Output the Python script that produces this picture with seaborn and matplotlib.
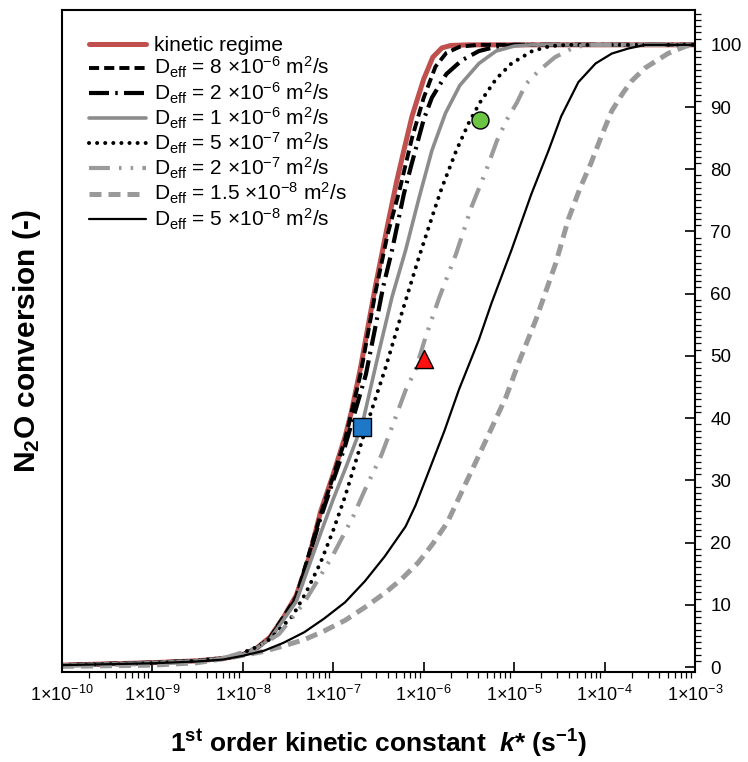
import numpy as np
import pandas as pd
import matplotlib
matplotlib.use("Agg")
import matplotlib.pyplot as plt
import seaborn as sns
from matplotlib.ticker import FixedLocator, MultipleLocator, NullFormatter

sns.set_style("white")
plt.rcParams["font.family"] = ["Liberation Sans", "DejaVu Sans"]
plt.rcParams["mathtext.fontset"] = "custom"
plt.rcParams["mathtext.rm"] = "Liberation Sans"
plt.rcParams["mathtext.it"] = "Liberation Sans:italic"
plt.rcParams["mathtext.bf"] = "Liberation Sans:bold"
plt.rcParams["mathtext.bfit"] = "Liberation Sans:bold:italic"
for key in ["text.color", "axes.labelcolor", "xtick.color", "ytick.color"]:
    plt.rcParams[key] = "black"

# ---------------- data (log10 of k* in s^-1, conversion in %) ----------------
logk_kin = [-10, -9, -8.5, -8.2, -8, -7.85, -7.7, -7.55, -7.41, -7.28, -7.14, -7.0, -6.87, -6.8,
            -6.7, -6.6, -6.53, -6.4, -6.3, -6.22, -6.13, -6.0, -5.9, -5.8, -5.7, -5.5, -3]
conv_kin = [0.3, 0.7, 1.0, 1.4, 2.0, 3.0, 4.8, 8, 11.5, 17, 25, 31, 37, 41,
            48, 56, 61.5, 71, 78, 83, 88.5, 94.5, 98, 99.5, 99.9, 100, 100]

logk_8e6 = [-10, -9, -8.5, -8.2, -8, -7.85, -7.7, -7.41, -7.14, -6.87, -6.7, -6.53, -6.4, -6.27,
            -6.13, -6.0, -5.87, -5.75, -5.6, -5.4, -3]
conv_8e6 = [0.3, 0.7, 1.0, 1.4, 2.0, 3.0, 4.7, 11.3, 24.5, 36.5, 47, 60.5, 69.5, 76.5,
            85, 91.5, 96.5, 98.7, 99.7, 100, 100]

logk_2e6 = [-10, -9, -8.5, -8.2, -8, -7.85, -7.7, -7.41, -7.14, -7.0, -6.87, -6.75, -6.64,
            -6.53, -6.45, -6.35, -6.22, -6.14, -6.0, -5.91, -5.75, -5.58, -5.39, -5.2, -5.0, -3]
conv_2e6 = [0.3, 0.7, 1.0, 1.4, 2.0, 3.0, 4.6, 11, 24, 30, 35.5, 41.5, 47,
            55, 61, 67, 76, 80.5, 88, 91.5, 95.3, 97.5, 99, 99.7, 100, 100]

logk_1e6 = [-10, -9, -8.5, -8.2, -8, -7.85, -7.7, -7.41, -7.14, -7.0, -6.85, -6.68, -6.49,
            -6.35, -6.2, -6.05, -5.91, -5.76, -5.6, -5.39, -5.2, -5.0, -4.8, -3]
conv_1e6 = [0.3, 0.7, 1.0, 1.4, 2.0, 3.0, 4.5, 10.5, 21.5, 27, 32.5, 39, 51,
            59.5, 67, 75.5, 83, 89, 93.5, 97, 99, 99.8, 100, 100]

logk_5e7 = [-10, -9, -8.5, -8.2, -8, -7.85, -7.7, -7.45, -7.3, -7.14, -7.0, -6.87, -6.69, -6.6,
            -6.42, -6.24, -6.05, -5.87, -5.8, -5.64, -5.5, -5.38, -5.2, -5.03, -4.8, -4.6,
            -4.4, -3]
conv_5e7 = [0.3, 0.6, 1.0, 1.5, 2.3, 3.2, 4.5, 8.2, 12, 16.8, 22, 27.4, 36, 40.2,
            48.2, 57, 66, 74, 77, 83, 87.5, 90.7, 94.5, 97, 99, 99.8,
            100, 100]

logk_2e7 = [-10, -9, -8.5, -8.2, -7.9, -7.75, -7.6, -7.45, -7.32, -7.12, -7.01, -6.78, -6.65,
            -6.47, -6.35, -6.2, -6.09, -5.98, -5.83, -5.64, -5.47, -5.31, -5.19, -5.08, -4.97,
            -4.87, -4.73, -4.55, -4.35, -4.2, -3]
conv_2e7 = [0.2, 0.5, 0.9, 1.5, 2.8, 3.9, 5.3, 8.0, 10.4, 15.2, 17.8, 24.2, 28.5,
            34, 38.6, 44.5, 47.8, 53, 59.3, 66.5, 74, 79.8, 84.6, 88, 90.7,
            93.7, 95.8, 98, 99.5, 100, 100]

logk_15e8 = [-10, -9, -8.5, -8.14, -7.77, -7.55, -7.32, -7.1, -6.87, -6.65, -6.42, -6.24, -6.06,
             -5.9, -5.74, -5.52, -5.31, -5.09, -4.95, -4.76, -4.54, -4.4, -4.27, -4.15, -4.03,
             -3.92, -3.8, -3.7, -3.55, -3.3, -3.1, -3]
conv_15e8 = [0.1, 0.3, 0.7, 1.5, 2.5, 3.4, 4.4, 5.8, 7.5, 9.6, 12, 14.2, 16.8,
             19.8, 23.2, 30, 36.5, 43.4, 48.9, 55.8, 64.9, 72, 77, 81, 85.5,
             89.4, 92.2, 94.2, 96.3, 98.6, 99.8, 100]

logk_5e8 = [-10, -9, -8.5, -8.22, -8.0, -7.77, -7.55, -7.32, -7.1, -6.87, -6.65, -6.43, -6.2,
            -6.09, -5.98, -5.77, -5.61, -5.39, -5.25, -5.03, -4.81, -4.62, -4.48, -4.29, -4.1,
            -3.92, -3.74, -3.55, -3]
conv_5e8 = [0.3, 0.6, 0.9, 1.2, 1.8, 2.6, 3.9, 5.6, 7.8, 10.4, 13.8, 17.8, 22.6,
            26, 30.1, 38, 44.6, 52.6, 58.5, 67, 76, 83, 88.5, 94, 97,
            98.6, 99.4, 100, 100]

labels = [
    "kinetic regime",
    r"D$_{\mathrm{eff}}$ = 8 $\times$10$^{-6}$ m$^{2}$/s",
    r"D$_{\mathrm{eff}}$ = 2 $\times$10$^{-6}$ m$^{2}$/s",
    r"D$_{\mathrm{eff}}$ = 1 $\times$10$^{-6}$ m$^{2}$/s",
    r"D$_{\mathrm{eff}}$ = 5 $\times$10$^{-7}$ m$^{2}$/s",
    r"D$_{\mathrm{eff}}$ = 2 $\times$10$^{-7}$ m$^{2}$/s",
    r"D$_{\mathrm{eff}}$ = 1.5 $\times$10$^{-8}$ m$^{2}$/s",
    r"D$_{\mathrm{eff}}$ = 5 $\times$10$^{-8}$ m$^{2}$/s",
]

# experimental points
pt_k = [2.1e-7, 1.0e-6, 4.2e-6]
pt_conv = [38.6, 49.5, 88.0]

xtick_exp = [-10, -9, -8, -7, -6, -5, -4, -3]
ytick_vals = [0, 10, 20, 30, 40, 50, 60, 70, 80, 90, 100]

# ---------------- styles ----------------
series = [
    (logk_kin, conv_kin, dict(color="#c0504d", lw=3.6, linestyle="-")),
    (logk_8e6, conv_8e6, dict(color="black", lw=2.8, linestyle=(0, (2.6, 1.3)))),
    (logk_2e6, conv_2e6, dict(color="black", lw=3.0, linestyle=(0, (4.8, 1.5, 0.6, 1.5)))),
    (logk_1e6, conv_1e6, dict(color="#8c8c8c", lw=2.6, linestyle="-")),
    (logk_5e7, conv_5e7, dict(color="black", lw=2.9, linestyle=(0, (0.01, 2.0)), dash_capstyle="round")),
    (logk_2e7, conv_2e7, dict(color="#9a9a9a", lw=3.0, linestyle=(0, (5, 2.2, 0.6, 2.2, 0.6, 2.2)))),
    (logk_15e8, conv_15e8, dict(color="#9a9a9a", lw=3.6, linestyle=(0, (2.4, 1.4)))),
    (logk_5e8, conv_5e8, dict(color="black", lw=1.6, linestyle="-")),
]

fig = plt.figure(figsize=(7.48, 7.62), dpi=100)
ax = fig.add_axes([62 / 748, 1 - 672 / 762, (695 - 62) / 748, (672 - 10) / 762])

for (lk, cv, st), lab in zip(series, labels):
    df = pd.DataFrame({"k": 10.0 ** np.array(lk), "conv": cv})
    sns.lineplot(data=df, x="k", y="conv", ax=ax, label=lab, sort=False, **st)

ax.set_xscale("log")
ax.set_xlim(1e-10, 1e-3)
ax.set_ylim(-0.8, 105.6)

ax.scatter([pt_k[0]], [pt_conv[0]], marker="s", s=150, color="#1f77c8", edgecolor="black", linewidth=1.0, zorder=5)
ax.scatter([pt_k[1]], [pt_conv[1]], marker="^", s=170, color="#ff1010", edgecolor="black", linewidth=1.0, zorder=5)
ax.scatter([pt_k[2]], [pt_conv[2]], marker="o", s=150, color="#6cc644", edgecolor="black", linewidth=1.0, zorder=5)

# axes styling
for sp in ax.spines.values():
    sp.set_color("black")
    sp.set_linewidth(1.5)

ax.yaxis.tick_right()
ax.yaxis.set_label_position("left")
ax.yaxis.set_major_locator(FixedLocator(ytick_vals))
ax.yaxis.set_minor_locator(MultipleLocator(1))
ax.set_yticklabels([str(v) for v in ytick_vals])
ax.tick_params(axis="y", which="major", direction="in", length=7, width=1.2, labelsize=13.5, pad=11,
               right=True, left=False)
ax.tick_params(axis="y", which="minor", direction="out", length=4, width=0.9, right=True, left=False)

ax.xaxis.set_major_locator(FixedLocator([10.0 ** e for e in xtick_exp]))
ax.set_xticklabels([r"1$\times$10$^{%d}$" % e for e in xtick_exp])
minor = [m * 10.0 ** e for e in xtick_exp[:-1] for m in range(2, 10)]
ax.xaxis.set_minor_locator(FixedLocator(minor))
ax.xaxis.set_minor_formatter(NullFormatter())
ax.tick_params(axis="x", which="major", direction="in", length=7, width=1.2, labelsize=13, pad=9,
               bottom=True, top=False)
ax.tick_params(axis="x", which="minor", direction="out", length=4, width=0.9, bottom=True, top=False)

ax.set_ylabel(r"N$_{\mathbf{2}}$O conversion (-)", fontsize=21.5, fontweight="bold", labelpad=14)
ax.set_xlabel(r"1$^{\mathbf{st}}$ order kinetic constant  $\mathbfit{k}$* (s$^{\mathbf{-1}}$)",
              fontsize=19, fontweight="bold", labelpad=17)

leg = ax.legend(loc="upper left", frameon=False, fontsize=15, handlelength=2.7,
                labelspacing=0.0, handletextpad=0.4, borderaxespad=0.0,
                bbox_to_anchor=(0.03, 0.973))

fig.savefig("out.png", dpi=100)
